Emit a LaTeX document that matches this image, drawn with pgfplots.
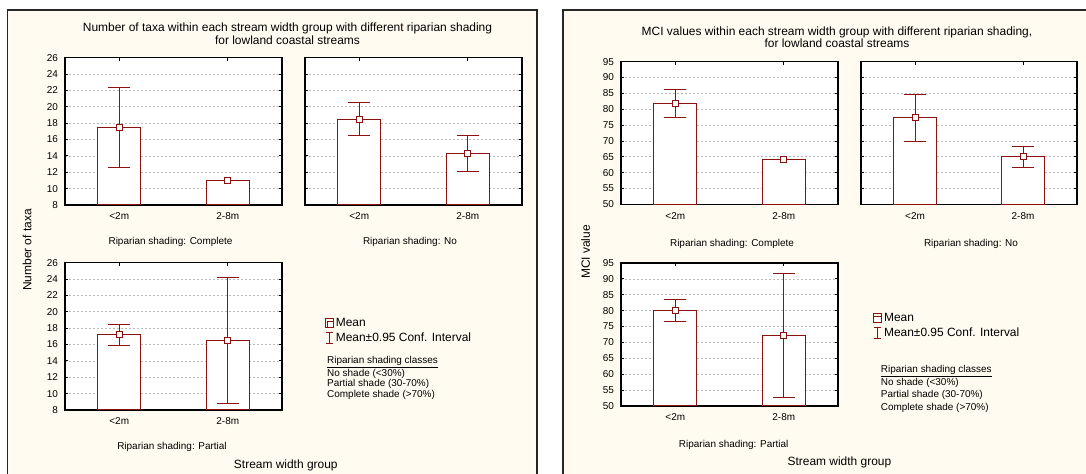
\documentclass[border=0pt]{standalone}
\usepackage{fontspec}
\setmainfont{Liberation Sans}
\usepackage{pgfplots}
\pgfplotsset{compat=1.18}
\definecolor{cream}{RGB}{255,251,240}
\definecolor{barred}{RGB}{140,18,18}
\definecolor{gridgray}{RGB}{185,185,185}
\newcommand{\ticksize}{\fontsize{10}{12}\selectfont}
\pgfplotsset{
  panel/.style={
    scale only axis, width=217bp,
    xmin=-0.5, xmax=1.5,
    xtick={0,1}, xticklabels={<2m,2-8m},
    axis background/.style={fill=white},
    axis line style={black, line width=1.1bp},
    tick align=inside,
    major tick length=3bp,
    tick style={black, line width=0.8bp},
    ymajorgrids,
    grid style={gridgray, dash pattern=on 2bp off 2bp, line width=0.6bp},
    tick label style={font=\ticksize},
    /pgf/number format/assume math mode=true,
    yticklabel shift=3.5bp,
    xticklabel shift=4.5bp,
  },
  taxa/.style={panel, height=147.3bp, ymin=8, ymax=26, ytick={8,10,...,26}},
  mci/.style={panel, ymin=50, ymax=95, ytick={50,55,...,95}},
  bars/.style={ybar, bar width=43bp, draw=barred, fill=white, line width=1bp},
  whisk/.style={fill=barred, draw=none, mark=none},
  caps/.style={only marks, mark=-, mark size=11bp,
    mark options={draw=barred, line width=1bp}},
  means/.style={only marks, mark=square*, mark size=3bp,
    mark options={fill=white, draw=barred, line width=1bp}},
  leg/.style={legend style={draw=none, fill=none, inner sep=0pt, row sep=1.5bp,
    font=\fontsize{12}{13}\selectfont, legend cell align=left,
    /tikz/every even column/.append style={column sep=2bp}}},
}
\begin{document}
\begin{tikzpicture}[x=1bp,y=1bp]
\useasboundingbox (0,0) rectangle (1086,474);
% panels
\fill[cream] (7.5,464) rectangle (537,-10);
\draw[black!85, line width=1.5bp] (7.5,-10) -- (7.5,464) -- (537,464) -- (537,-10);
\fill[cream] (563,464) rectangle (1100,-10);
\draw[black!85, line width=1.5bp] (563,-10) -- (563,464) -- (1100,464);

% ---------- Number of taxa ----------
\begin{axis}[taxa, at={(65bp,269bp)}, anchor=south west]
\addplot[bars] coordinates {(0,17.5) (1,11.0)};
\addplot[color=barred, mark=none, line width=1bp] coordinates {(0,12.6) (0,22.4)};
\addplot[caps] coordinates {(0,12.6) (0,22.4)};
\addplot[means] coordinates {(0,17.5) (1,11.0)};
\end{axis}
\begin{axis}[taxa, at={(305bp,269bp)}, anchor=south west, yticklabels={}]
\addplot[bars] coordinates {(0,18.5) (1,14.25)};
\addplot[whisk] coordinates {(-0.0046,16.45) (0.0046,16.45) (0.0046,20.55) (-0.0046,20.55)};
\addplot[whisk] coordinates {(0.9954,12.05) (1.0046,12.05) (1.0046,16.45) (0.9954,16.45)};
\addplot[caps] coordinates {(0,16.45) (0,20.55) (1,12.05) (1,16.45)};
\addplot[means] coordinates {(0,18.5) (1,14.25)};
\end{axis}
\begin{axis}[taxa, leg, at={(65bp,64bp)}, anchor=south west,
  legend style={at={(1.197,0.64)}, anchor=north west}]
\addplot[forget plot, bars] coordinates {(0,17.2) (1,16.5)};
\addplot[forget plot, whisk] coordinates {(-0.0046,15.9) (0.0046,15.9) (0.0046,18.5) (-0.0046,18.5)};
\addplot[forget plot, whisk] coordinates {(0.9954,8.85) (1.0046,8.85) (1.0046,24.15) (0.9954,24.15)};
\addplot[forget plot, caps] coordinates {(0,15.9) (0,18.5) (1,8.85) (1,24.15)};
\addplot[forget plot, means] coordinates {(0,17.2) (1,16.5)};
\addlegendimage{legend image code/.code={
  \draw[barred, line width=0.9bp] (0bp,-4.3bp) rectangle (8bp,4.3bp);
  \draw[barred, fill=white, line width=0.9bp] (2.5bp,-4.3bp) rectangle (8bp,1.2bp);}}
\addlegendentry{Mean}
\addlegendimage{legend image code/.code={
  \draw[barred, line width=0.9bp] (4bp,-5.5bp) -- (4bp,5.5bp);
  \draw[barred, line width=0.9bp] (0.5bp,-5.5bp) -- (7.5bp,-5.5bp);
  \draw[barred, line width=0.9bp] (0.5bp,5.5bp) -- (7.5bp,5.5bp);}}
\addlegendentry{Mean±0.95 Conf. Interval}
\end{axis}

\node[font=\fontsize{12}{12.7}\selectfont, align=center] at (287.5,440.3)
  {Number of taxa within each stream width group with different riparian shading\\for lowland coastal streams};
\node[font=\fontsize{10}{12}\selectfont] at (170.5,232) {Riparian shading: Complete};
\node[font=\fontsize{10}{12}\selectfont] at (410,232) {Riparian shading: No};
\node[font=\fontsize{10}{12}\selectfont] at (172,26.7) {Riparian shading: Partial};
\node[font=\fontsize{12}{14}\selectfont] at (285.8,9) {Stream width group};
\node[font=\fontsize{12}{14}\selectfont, rotate=90] at (27,224) {Number of taxa};
\node[font=\fontsize{10}{10.6}\selectfont, align=left, anchor=north west, inner sep=0pt] at (327,117.5)
  {\underline{Riparian shading classes}\\No shade (<30\%)\\Partial shade (30-70\%)\\Complete shade (>70\%)};

% ---------- MCI ----------
\begin{axis}[mci, height=142.6bp, at={(621bp,269.7bp)}, anchor=south west]
\addplot[bars] coordinates {(0,81.8) (1,64.0)};
\addplot[whisk] coordinates {(-0.0046,77.25) (0.0046,77.25) (0.0046,86.35) (-0.0046,86.35)};
\addplot[caps] coordinates {(0,77.25) (0,86.35)};
\addplot[means] coordinates {(0,81.8) (1,64.0)};
\end{axis}
\begin{axis}[mci, height=142.6bp, width=216bp, at={(861bp,269.7bp)}, anchor=south west, yticklabels={}]
\addplot[bars] coordinates {(0,77.3) (1,65.0)};
\addplot[whisk] coordinates {(-0.0046,69.95) (0.0046,69.95) (0.0046,84.65) (-0.0046,84.65)};
\addplot[whisk] coordinates {(0.9954,61.75) (1.0046,61.75) (1.0046,68.25) (0.9954,68.25)};
\addplot[caps] coordinates {(0,69.95) (0,84.65) (1,61.75) (1,68.25)};
\addplot[means] coordinates {(0,77.3) (1,65.0)};
\end{axis}
\begin{axis}[mci, leg, height=143bp, at={(621bp,68bp)}, anchor=south west,
  legend style={at={(1.161,0.665)}, anchor=north west}]
\addplot[forget plot, bars] coordinates {(0,80.0) (1,72.2)};
\addplot[forget plot, whisk] coordinates {(-0.0046,76.55) (0.0046,76.55) (0.0046,83.45) (-0.0046,83.45)};
\addplot[forget plot, whisk] coordinates {(0.9954,52.6) (1.0046,52.6) (1.0046,91.8) (0.9954,91.8)};
\addplot[forget plot, caps] coordinates {(0,76.55) (0,83.45) (1,52.6) (1,91.8)};
\addplot[forget plot, means] coordinates {(0,80.0) (1,72.2)};
\addlegendimage{legend image code/.code={
  \draw[barred, line width=0.9bp] (0bp,-4.3bp) rectangle (8bp,4.3bp);
  \draw[barred, fill=white, line width=0.9bp] (0bp,-4.3bp) rectangle (8bp,1.2bp);}}
\addlegendentry{Mean}
\addlegendimage{legend image code/.code={
  \draw[barred, line width=0.9bp] (4bp,-5.5bp) -- (4bp,5.5bp);
  \draw[barred, line width=0.9bp] (0.5bp,-5.5bp) -- (7.5bp,-5.5bp);
  \draw[barred, line width=0.9bp] (0.5bp,5.5bp) -- (7.5bp,5.5bp);}}
\addlegendentry{Mean±0.95 Conf. Interval}
\end{axis}

\node[font=\fontsize{12}{12.7}\selectfont, align=center] at (837,436.8)
  {MCI values within each stream width group with different riparian shading,\\for lowland coastal streams};
\node[font=\fontsize{10}{12}\selectfont] at (732,230) {Riparian shading: Complete};
\node[font=\fontsize{10}{12}\selectfont] at (971,230) {Riparian shading: No};
\node[font=\fontsize{10}{12}\selectfont] at (733.7,29) {Riparian shading: Partial};
\node[font=\fontsize{12}{14}\selectfont] at (839.4,11.3) {Stream width group};
\node[font=\fontsize{12}{14}\selectfont, rotate=90] at (585.6,222) {MCI value};
\node[font=\fontsize{10}{12.5}\selectfont, align=left, anchor=north west, inner sep=0pt] at (880.7,108.5)
  {\underline{Riparian shading classes}\\No shade (<30\%)\\Partial shade (30-70\%)\\Complete shade (>70\%)};
\end{tikzpicture}
\end{document}
